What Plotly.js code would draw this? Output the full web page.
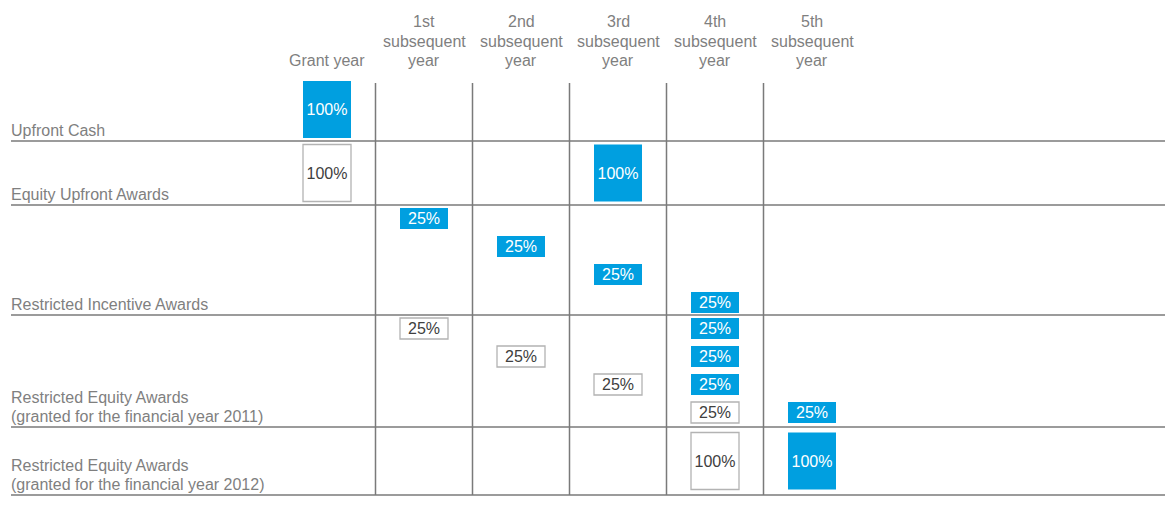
<!DOCTYPE html>
<html>
<head>
<meta charset="utf-8">
<script src="https://cdn.plot.ly/plotly-3.0.1.min.js"></script>
<style>html,body{margin:0;padding:0;background:#fff;}#chart{width:1165px;height:510px;}</style>
</head>
<body>
<div id="chart"></div>
<script>
// ---- data ----
const columnLabels = ["Grant year", "1st<br>subsequent<br>year", "2nd<br>subsequent<br>year", "3rd<br>subsequent<br>year", "4th<br>subsequent<br>year", "5th<br>subsequent<br>year"];
const rowLabels = ["Upfront Cash", "Equity Upfront Awards", "Restricted Incentive Awards", "Restricted Equity Awards<br>(granted for the financial year 2011)", "Restricted Equity Awards<br>(granted for the financial year 2012)"];
const awardRow     = [0, 1, 1, 2, 2, 2, 2, 3, 3, 3, 3, 3, 3, 3, 3, 4, 4];
const awardCol     = [0, 0, 3, 1, 2, 3, 4, 1, 2, 3, 4, 4, 4, 4, 5, 4, 5];
const awardShare   = [100, 100, 100, 25, 25, 25, 25, 25, 25, 25, 25, 25, 25, 25, 25, 100, 100];
const awardTranche = [1, 1, 1, 1, 2, 3, 4, 1, 2, 3, 1, 2, 3, 4, 4, 1, 1];
const awardStatus  = ["delivery", "vesting", "delivery", "delivery", "delivery", "delivery", "delivery",
                      "vesting", "vesting", "vesting", "delivery", "delivery", "delivery", "vesting", "delivery",
                      "vesting", "delivery"];

// ---- layout geometry ----
const W = 1165, H = 510;
const colCenter0 = 327, colStep = 97;
const rowTopStart = 78;
const rowHeights = [63, 64, 110, 112, 68];
const fullBoxH = 57, trancheStep = 28, trancheH = 21, tranchePad = 3;
const boxW = 48 / colStep;
const textShift = 1.5;
const BLUE = "#009fe0", GRID = "#7a7a7a", LABEL = "#7f7f7f", DARK = "#404040";
const FONT = "Arial, 'Liberation Sans', sans-serif";

const rowTop = [], rowBottom = [];
let acc = rowTopStart;
rowHeights.forEach(h => { rowTop.push(acc); acc += h; rowBottom.push(acc); });

const boxes = awardRow.map((r, i) => {
  let top, h;
  if (awardShare[i] === 100) { h = fullBoxH; top = rowTop[r] + (rowHeights[r] - h) / 2; }
  else { h = trancheH; top = rowTop[r] + tranchePad + trancheStep * (awardTranche[i] - 1); }
  return {x: awardCol[i], top, h, share: awardShare[i], status: awardStatus[i]};
});

function barTrace(status, color, lineColor, lineW) {
  const b = boxes.filter(d => d.status === status);
  return {
    type: "bar", x: b.map(d => d.x), y: b.map(d => d.h), base: b.map(d => d.top),
    width: b.map(() => boxW), marker: {color: color, line: {color: lineColor, width: lineW}},
    hoverinfo: "skip", showlegend: false, textposition: "none"
  };
}
const traces = [
  barTrace("vesting", "#ffffff", "#b3b3b3", 1.3),
  barTrace("delivery", BLUE, BLUE, 0),
  {
    type: "scatter", mode: "text", x: boxes.map(d => d.x), y: boxes.map(d => d.top + d.h / 2 + textShift),
    text: boxes.map(d => d.share + "%"), textposition: "middle center",
    textfont: {family: FONT, size: 16, color: boxes.map(d => d.status === "delivery" ? "#ffffff" : DARK)},
    hoverinfo: "skip", showlegend: false
  }
];

const shapes = [];
rowBottom.forEach(y => shapes.push({type: "line", xref: "paper", yref: "y", x0: 11 / W, x1: 1, y0: y, y1: y, line: {color: GRID, width: 1.5}}));
for (let k = 0; k < columnLabels.length - 1; k++) {
  shapes.push({type: "line", xref: "x", yref: "y", x0: k + 0.5, x1: k + 0.5, y0: 83, y1: rowBottom[rowBottom.length - 1], line: {color: GRID, width: 1.5}});
}

const annotations = [];
const headerLineStep = 19.5, headerLastY = 60.5;
columnLabels.forEach((lab, k) => {
  const lines = lab.split("<br>");
  lines.forEach((ln, j) => {
    annotations.push({xref: "x", yref: "y", x: k, y: headerLastY - headerLineStep * (lines.length - 1 - j),
      text: ln, showarrow: false, xanchor: "center", yanchor: "middle",
      font: {family: FONT, size: 16, color: LABEL}});
  });
});
const labelLineStep = 18.7, labelOffset = 10.5;
rowLabels.forEach((lab, r) => {
  const lines = lab.split("<br>");
  lines.forEach((ln, j) => {
    annotations.push({xref: "paper", yref: "y", x: 9 / W, y: rowBottom[r] - labelOffset - labelLineStep * (lines.length - 1 - j),
      text: ln, showarrow: false, xanchor: "left", yanchor: "middle", align: "left",
      font: {family: FONT, size: 16, color: LABEL}});
  });
});

const layout = {
  width: W, height: H, margin: {l: 0, r: 0, t: 0, b: 0},
  paper_bgcolor: "#ffffff", plot_bgcolor: "#ffffff",
  barmode: "overlay", showlegend: false,
  xaxis: {range: [-colCenter0 / colStep, (W - colCenter0) / colStep], visible: false, fixedrange: true},
  yaxis: {range: [H, 0], visible: false, fixedrange: true},
  shapes: shapes, annotations: annotations
};
Plotly.newPlot("chart", traces, layout, {displayModeBar: false, staticPlot: true});
</script>
</body>
</html>
